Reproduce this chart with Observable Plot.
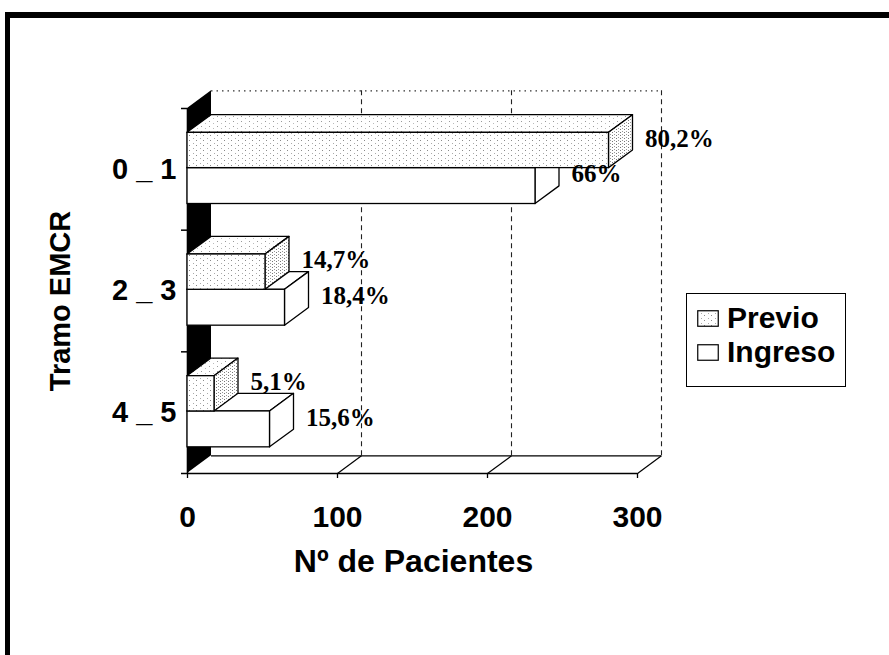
<!DOCTYPE html>
<html><head><meta charset="utf-8">
<script src="https://cdn.jsdelivr.net/npm/d3@7"></script>
<script src="https://cdn.jsdelivr.net/npm/@observablehq/plot@0.6"></script>
<style>
  body { margin: 0; background: #fff; }
  #wrap { position: relative; width: 889px; height: 655px; overflow: hidden; background: #fff; }
  #wrap svg.plot { position: absolute; left: 0; top: 0; }
  .frame { position: absolute; background: #000; }
  #legend { position: absolute; left: 686px; top: 293px; width: 160px; height: 94px; border: 1.5px solid #000; box-sizing: border-box;
            font-family: "Liberation Sans", Arial, sans-serif; font-weight: bold; font-size: 30px; color: #000; }
  .li { position: absolute; left: 10px; display: flex; align-items: center; height: 32px; }
  .li svg { margin-right: 8px; }
</style></head>
<body>
<svg width="0" height="0" style="position:absolute">
  <defs>
    <pattern id="stip" width="7" height="5" patternUnits="userSpaceOnUse">
      <rect width="7" height="5" fill="#fff"/>
      <rect x="0" y="0" width="1" height="1" fill="#8a8a8a"/>
      <rect x="4" y="3" width="1" height="1" fill="#aaaaaa"/>
    </pattern>
    <pattern id="stipT" width="8" height="5" patternUnits="userSpaceOnUse">
      <rect width="8" height="5" fill="#fff"/>
      <rect x="1" y="1" width="1" height="1" fill="#999"/>
      <rect x="5" y="3" width="1" height="1" fill="#bbb"/>
    </pattern>
    <pattern id="stipR" width="4" height="3" patternUnits="userSpaceOnUse">
      <rect width="4" height="3" fill="#fff"/>
      <rect x="0" y="0" width="1" height="1" fill="#777"/>
      <rect x="2" y="2" width="1" height="1" fill="#999"/>
    </pattern>
  </defs>
</svg>
<div id="wrap">
  <div class="frame" style="left:8px;top:12px;width:881px;height:6px"></div>
  <div class="frame" style="left:5px;top:12px;width:5px;height:643px"></div>
</div>
<script>
// ---- data ----
const categories = ["0 _ 1", "2 _ 3", "4 _ 5"];
const series = ["Previo", "Ingreso"];
const previo = [281, 52, 18];
const ingreso = [232, 65, 55];
const previoPct = ["80,2%", "14,7%", "5,1%"];
const ingresoPct = ["66%", "18,4%", "15,6%"];
const xTicks = [0, 100, 200, 300];
const axisXTitle = "Nº de Pacientes";
const axisYTitle = "Tramo EMCR";

// ---- 3D style constants (data units) ----
const DX = 16, DY = 0.145;
const slots = {Previo: [0.2, 0.49], Ingreso: [0.49, 0.785]};
const xMax = xTicks[xTicks.length - 1];
const nCat = categories.length;

const bars = [];
categories.forEach((c, i) => {
  bars.push({k: "P" + i, s: series[0], v: previo[i], pct: previoPct[i], y1: i + slots.Previo[0], y2: i + slots.Previo[1]});
  bars.push({k: "I" + i, s: series[1], v: ingreso[i], pct: ingresoPct[i], y1: i + slots.Ingreso[0], y2: i + slots.Ingreso[1]});
});
const topFace = bars.flatMap(b => [
  {k: b.k, s: b.s, y: b.y1, x1: 0, x2: b.v},
  {k: b.k, s: b.s, y: b.y1 - DY, x1: DX, x2: b.v + DX}
]);
const rightFace = bars.flatMap(b => [
  {k: b.k, s: b.s, x: b.v, y1: b.y1, y2: b.y2},
  {k: b.k, s: b.s, x: b.v + DX, y1: b.y1 - DY, y2: b.y2 - DY}
]);
const wall = [{x: 0, y1: 0, y2: nCat}, {x: DX, y1: -DY, y2: nCat - DY}];

const fills = {
  Previo: {front: "url(#stip)", top: "url(#stipT)", right: "url(#stipR)"},
  Ingreso: {front: "white", top: "white", right: "white"}
};
function barMarks(s) {
  const bs = bars.filter(b => b.s === s);
  return [
    Plot.areaX(topFace.filter(d => d.s === s), {y: "y", x1: "x1", x2: "x2", z: "k", fill: fills[s].top, stroke: "black", strokeWidth: 1.3}),
    Plot.areaY(rightFace.filter(d => d.s === s), {x: "x", y1: "y1", y2: "y2", z: "k", fill: fills[s].right, stroke: "black", strokeWidth: 1.3}),
    Plot.rect(bs, {x1: () => 0, x2: "v", y1: "y1", y2: "y2", fill: fills[s].front, stroke: "black", strokeWidth: 1.3})
  ];
}

const sans = "'Liberation Sans', Arial, sans-serif";
const serif = "'Liberation Serif', 'Times New Roman', serif";

const chart = Plot.plot({
  width: 889, height: 655,
  marginLeft: 187, marginRight: 252, marginTop: 108, marginBottom: 182,
  style: {background: "transparent", fontFamily: sans},
  x: {domain: [0, xMax], range: [187, 637], axis: null},
  y: {domain: [0, nCat], range: [108, 473], axis: null},
  marks: [
    // back wall
    Plot.ruleY([-DY], {x1: DX, x2: xMax + DX, stroke: "#333", strokeWidth: 1.2, strokeDasharray: "1.5,4"}),
    Plot.ruleX(xTicks.slice(1), {x: d => d + DX, y1: -DY, y2: nCat - DY, stroke: "#222", strokeWidth: 1.1, strokeDasharray: "5,4"}),
    Plot.ruleY([nCat - DY], {x1: DX, x2: xMax + DX, stroke: "black", strokeWidth: 1.3}),
    // floor
    Plot.link(xTicks.slice(1), {x1: d => d, y1: () => nCat, x2: d => d + DX, y2: () => nCat - DY, stroke: "black", strokeWidth: 1.2}),
    Plot.ruleY([nCat], {x1: 0, x2: xMax, stroke: "black", strokeWidth: 1.6}),
    // left wall
    Plot.areaY(wall, {x: "x", y1: "y1", y2: "y2", fill: "black"}),
    Plot.ruleX([0], {y1: 0, y2: nCat, stroke: "black", strokeWidth: 1.6}),
    Plot.axisY({ticks: d3.range(nCat + 1), tickSize: 6, tickFormat: () => "", label: null, strokeWidth: 1.5}),
    Plot.axisX({ticks: xTicks, tickSize: 5, tickFormat: () => "", label: null, strokeWidth: 1.3}),
    // bars
    ...barMarks("Ingreso"),
    ...barMarks("Previo"),
    // value labels
    Plot.text(bars, {x: d => d.v + DX, y: d => (d.y1 + d.y2) / 2 - DY / 2, text: "pct", dx: 12, dy: -3,
      textAnchor: "start", fontFamily: serif, fontWeight: "bold", fontSize: 25, fill: "black"}),
    // category labels
    Plot.text(categories, {x: () => 0, y: (d, i) => i + 0.5, text: d => d, dx: -11, textAnchor: "end",
      fontFamily: sans, fontWeight: "bold", fontSize: 29, fill: "black", letterSpacing: "2px"}),
    // x tick labels
    Plot.text(xTicks, {x: d => d, y: () => nCat, text: d => String(d), dy: 44,
      fontFamily: sans, fontWeight: "bold", fontSize: 30, fill: "black"}),
    // axis titles
    Plot.text([axisXTitle], {frameAnchor: "bottom", text: d => d, dy: 88, dx: 1, lineAnchor: "middle", textAnchor: "middle",
      fontFamily: sans, fontWeight: "bold", fontSize: 32, fill: "black"}),
    Plot.text([axisYTitle], {frameAnchor: "left", text: d => d, dx: -127, dy: 10, rotate: -90, textAnchor: "middle", lineAnchor: "middle",
      fontFamily: sans, fontWeight: "bold", fontSize: 29, fill: "black", letterSpacing: "1.5px"})
  ]
});
chart.classList.add("plot");
const wrap = document.getElementById("wrap");
wrap.insertBefore(chart, wrap.firstChild);

// legend
const legend = document.createElement("div");
legend.id = "legend";
series.forEach((s, i) => {
  const row = document.createElement("div");
  row.className = "li";
  row.style.top = (8 + i * 34) + "px";
  row.innerHTML = `<svg width="22" height="17"><rect x="0.75" y="0.75" width="20.5" height="15.5" fill="${fills[s].front}" stroke="black" stroke-width="1.2"/></svg><span>${s}</span>`;
  legend.appendChild(row);
});
wrap.appendChild(legend);
</script>
</body></html>
